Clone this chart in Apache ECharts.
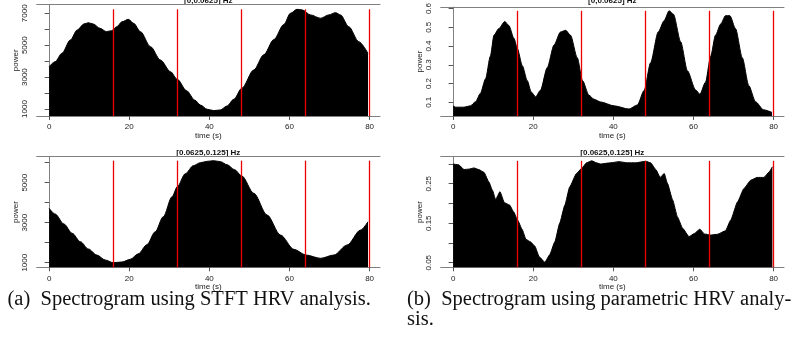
<!DOCTYPE html>
<html>
<head>
<meta charset="utf-8">
<script src="https://cdn.jsdelivr.net/npm/echarts@6/dist/echarts.min.js"></script>
<style>html,body{margin:0;padding:0;background:#fff}#c{width:801px;height:342px}</style>
</head>
<body>
<div id="c"></div>
<script>
// ---- data ----
const segmentBounds = [16, 32, 48, 64, 80];
const xTicks = [0, 20, 40, 60, 80];

// (a) STFT, [0,0.0625] Hz
const stftLfTime = [0, 1.5, 3.2, 5.3, 7, 8.7, 9.8, 11, 12.7, 14.3, 15.6, 16.9, 18.2, 19.8, 21.1, 22.8, 25.3, 27.8, 30.3, 32, 34.3, 36.4, 37.75, 39.5, 41.1, 42.75, 44.4, 46.1, 48.1, 51.1, 53.6, 56.1, 58.6, 60.25, 61.9, 63.2, 65.25, 67.75, 69.8, 71.5, 72.75, 74.8, 77.3, 79.6];
const stftLfPower = [3652, 3966, 4492, 5326, 5953, 6330, 6410, 6330, 6060, 5850, 5910, 6160, 6470, 6620, 6370, 5850, 4910, 4070, 3340, 2860, 2150, 1550, 1250, 980, 900, 940, 1190, 1608, 2300, 3450, 4400, 5350, 6300, 7000, 7250, 7210, 6900, 6690, 6900, 7040, 6900, 6160, 5220, 4490];
const stftLfTicks = [1000, 2000, 3000, 4000, 5000, 6000, 7000];
const stftLfLabels = [1000, 3000, 5000, 7000];

// (a) STFT, [0.0625,0.125] Hz
const stftHfTime = [0, 1.5, 3.7, 5.75, 7.8, 9.8, 11.9, 14, 16, 18.2, 20.25, 22.3, 24.4, 26.5, 28.5, 30.7, 32, 34, 36, 37.75, 39.5, 41.1, 42.8, 44.4, 46.3, 48.1, 51.1, 54.4, 57.75, 61.1, 64.1, 67.75, 71.1, 74.4, 77.75, 79.6];
const stftHfPower = [3720, 3435, 2935, 2470, 2050, 1685, 1385, 1135, 1000, 1035, 1170, 1450, 1900, 2550, 3300, 4300, 4800, 5450, 5850, 6000, 6070, 6100, 6050, 5900, 5650, 5335, 4470, 3385, 2385, 1670, 1385, 1220, 1385, 1885, 2635, 3050];
const stftHfTicks = [1000, 2000, 3000, 4000, 5000, 6000];
const stftHfLabels = [1000, 3000, 5000];

// (b) parametric, [0,0.0625] Hz
const parLfTime = [0, 0.6, 2.7, 4.3, 5.6, 6.8, 8.1, 9.3, 10.2, 11.4, 12.9, 13.9, 15.2, 16.0, 17.3, 18.5, 19.5, 20.6, 21.8, 23.5, 25.2, 26.8, 28.1, 29.3, 31, 32.3, 33.9, 35.2, 36.8, 40.2, 43.9, 46.0, 47.7, 49.3, 51.2, 52.7, 53.9, 55.0, 56.8, 58.5, 60.5, 61.6, 63.0, 64.3, 65.5, 66.8, 68.0, 69.1, 70.5, 72.2, 73.8, 75.5, 77.5, 79.6];
const parLfPower = [0.081, 0.074, 0.074, 0.081, 0.103, 0.147, 0.225, 0.346, 0.458, 0.493, 0.531, 0.510, 0.441, 0.389, 0.294, 0.216, 0.155, 0.129, 0.164, 0.285, 0.406, 0.475, 0.484, 0.458, 0.337, 0.216, 0.138, 0.116, 0.102, 0.081, 0.064, 0.086, 0.164, 0.311, 0.475, 0.536, 0.588, 0.570, 0.423, 0.268, 0.167, 0.143, 0.207, 0.346, 0.458, 0.518, 0.562, 0.562, 0.493, 0.337, 0.190, 0.103, 0.060, 0.046];
const parLfTicks = [0.1, 0.2, 0.3, 0.4, 0.5, 0.6];
const parLfLabels = [0.1, 0.2, 0.3, 0.4, 0.5, 0.6];

// (b) parametric, [0.0625,0.125] Hz
const parHfTime = [0, 1.4, 2.7, 3.9, 5.2, 6.4, 7.7, 8.9, 9.8, 10.6, 11.7, 12.8, 14.1, 15.1, 16.1, 17.2, 18.2, 19.3, 20.4, 21.5, 22.9, 24.1, 25.4, 26.6, 27.9, 29.1, 30.8, 32.1, 33.3, 34.6, 35.8, 36.8, 39.3, 41.4, 43.5, 45.6, 48.1, 49.3, 50.6, 51.7, 52.7, 53.5, 54.8, 56.0, 57.3, 58.9, 60.2, 61.6, 62.7, 64.3, 66.0, 68.0, 69.3, 71.0, 72.6, 74.3, 75.9, 77.6, 78.9, 79.7];
const parHfPower = [0.300, 0.298, 0.286, 0.287, 0.290, 0.286, 0.279, 0.255, 0.234, 0.210, 0.230, 0.202, 0.196, 0.179, 0.158, 0.135, 0.109, 0.103, 0.092, 0.065, 0.051, 0.070, 0.103, 0.150, 0.196, 0.242, 0.276, 0.289, 0.303, 0.308, 0.303, 0.300, 0.303, 0.306, 0.303, 0.303, 0.307, 0.303, 0.286, 0.266, 0.276, 0.251, 0.209, 0.166, 0.137, 0.116, 0.124, 0.135, 0.123, 0.120, 0.122, 0.131, 0.158, 0.204, 0.238, 0.259, 0.266, 0.266, 0.280, 0.293];
const parHfTicks = [0.05, 0.10, 0.15, 0.20, 0.25, 0.30];
const parHfLabels = [0.05, 0.15, 0.25];

const titleLf = '[0,0.0625] Hz';
const titleHf = '[0.0625,0.125] Hz';
const captionA = '(a)  Spectrogram using STFT HRV analysis.';
const captionB1 = '(b)  Spectrogram using parametric HRV analy-';
const captionB2 = 'sis.';

// ---- layout ----
const SANS = 'Liberation Sans, Arial, sans-serif';
const SERIF = 'Liberation Serif, Times New Roman, serif';
const FRAME = '#808080';
const panels = [
  {left: 36.7, top: 4.7, height: 111.3, t: stftLfTime, v: stftLfPower, ticks: stftLfTicks, labels: stftLfLabels, ymin: 561, ymax: 7539, smooth: 0.3},
  {left: 440.7, top: 4.7, height: 111.3, t: parLfTime, v: parLfPower, ticks: parLfTicks, labels: parLfLabels, ymin: 0.027, ymax: 0.608, smooth: 0.25},
  {left: 36.7, top: 156.7, height: 110.6, t: stftHfTime, v: stftHfPower, ticks: stftHfTicks, labels: stftHfLabels, ymin: 770, ymax: 6300, smooth: 0.3},
  {left: 440.7, top: 156.7, height: 110.6, t: parHfTime, v: parHfPower, ticks: parHfTicks, labels: parHfLabels, ymin: 0.0384, ymax: 0.3185, smooth: 0.15}
];
const W = 343.3, XMIN = -3.1, XMAX = 82.6;

const grid = [], xAxis = [], yAxis = [], series = [];
panels.forEach((p, i) => {
  grid.push({left: p.left, top: p.top, width: W, height: p.height, containLabel: false});
  xAxis.push({
    type: 'value', gridIndex: i, min: XMIN, max: XMAX, position: 'bottom',
    name: 'time (s)', nameLocation: 'middle', nameGap: 15,
    nameTextStyle: {fontFamily: SANS, fontSize: 8, color: '#222'},
    axisLine: {show: true, lineStyle: {color: FRAME, width: 1}},
    axisTick: {show: true, length: 4, lineStyle: {color: '#555'}, customValues: xTicks},
    axisLabel: {show: true, customValues: xTicks, margin: 7, fontFamily: SANS, fontSize: 8, color: '#222'},
    splitLine: {show: false}
  });
  xAxis.push({
    type: 'value', gridIndex: i, min: XMIN, max: XMAX, position: 'top',
    axisLine: {show: true, lineStyle: {color: FRAME, width: 1}},
    axisTick: {show: false}, axisLabel: {show: false}, splitLine: {show: false}
  });
  yAxis.push({
    type: 'value', gridIndex: i, min: p.ymin, max: p.ymax, position: 'left',
    name: 'power', nameLocation: 'middle', nameGap: 17,
    nameTextStyle: {fontFamily: SANS, fontSize: 8, color: '#222'},
    axisLine: {show: false},
    axisTick: {show: true, length: 4.5, lineStyle: {color: '#555'}, customValues: p.ticks},
    axisLabel: {show: true, rotate: 90, customValues: p.labels, margin: 7.5, fontFamily: SANS, fontSize: 8, color: '#222',
      formatter: v => String(v)},
    splitLine: {show: false}
  });
  yAxis.push({
    type: 'value', gridIndex: i, min: p.ymin, max: p.ymax, position: 'right',
    axisLine: {show: true, lineStyle: {color: FRAME, width: 1}},
    axisTick: {show: false}, axisLabel: {show: false}, splitLine: {show: false}
  });
  const peak = Math.max.apply(null, p.v);
  series.push({
    type: 'line', xAxisIndex: 2 * i, yAxisIndex: 2 * i,
    data: p.t.map((t, k) => [t, p.v[k]]),
    showSymbol: false, symbol: 'none', smooth: p.smooth, smoothMonotone: 'x',
    lineStyle: {color: '#000', width: 1},
    areaStyle: {color: '#000', opacity: 1, origin: 'start'},
    markLine: {
      silent: true, symbol: ['none', 'none'], label: {show: false},
      lineStyle: {color: '#ee0000', width: 1.3, type: 'solid'},
      emphasis: {disabled: true},
      data: segmentBounds.map(b => [{coord: [b, p.ymin]}, {coord: [b, peak]}])
    }
  });
});

const graphic = [
  {type: 'text', x: 208.35, y: 0.5, style: {text: titleLf, font: 'bold 8px ' + SANS, fill: '#111', align: 'center', verticalAlign: 'middle'}},
  {type: 'text', x: 612.35, y: 0.5, style: {text: titleLf, font: 'bold 8px ' + SANS, fill: '#111', align: 'center', verticalAlign: 'middle'}},
  {type: 'text', x: 208.35, y: 152.5, style: {text: titleHf, font: 'bold 8px ' + SANS, fill: '#111', align: 'center', verticalAlign: 'middle'}},
  {type: 'text', x: 612.35, y: 152.5, style: {text: titleHf, font: 'bold 8px ' + SANS, fill: '#111', align: 'center', verticalAlign: 'middle'}},
  {type: 'text', x: 189.2, y: 300, style: {text: captionA, font: '20.5px ' + SERIF, fill: '#111', align: 'center', verticalAlign: 'middle'}},
  {type: 'text', x: 407, y: 300, style: {text: captionB1, font: '20.5px ' + SERIF, fill: '#111', align: 'left', verticalAlign: 'middle'}},
  {type: 'text', x: 407, y: 320, style: {text: captionB2, font: '20.5px ' + SERIF, fill: '#111', align: 'left', verticalAlign: 'middle'}}
];

const chart = echarts.init(document.getElementById('c'), null, {renderer: 'canvas'});
chart.setOption({
  animation: false,
  backgroundColor: '#fff',
  grid, xAxis, yAxis, series, graphic
});
</script>
</body>
</html>
